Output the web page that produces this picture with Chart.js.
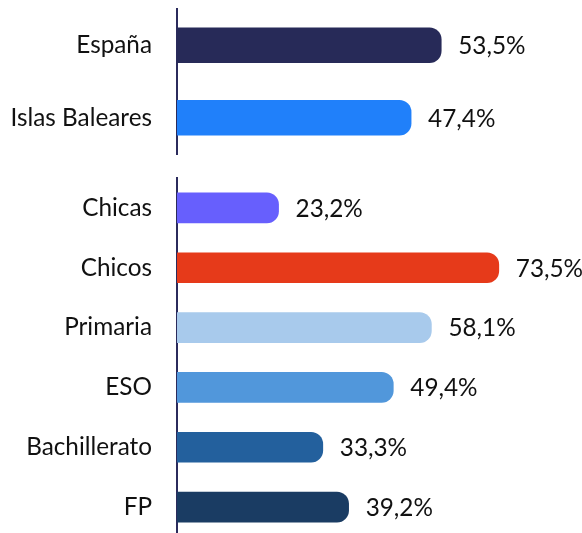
<!DOCTYPE html>
<html lang="es">
<head>
<meta charset="utf-8">
<script src="https://cdn.jsdelivr.net/npm/chart.js@4"></script>
<style>
  html, body { margin: 0; padding: 0; background: #fff; overflow: hidden; }
  #wrap { width: 582px; height: 533px; overflow: hidden; position: relative; }
  canvas { display: block; }
</style>
</head>
<body>
<div id="wrap">
  <canvas id="topChart" width="582" height="160"></canvas>
  <canvas id="bottomChart" width="582" height="377"></canvas>
</div>
<script>
// territorial comparison
const topLabels = ['España', 'Islas Baleares'];
const topValues = [53.5, 47.4];
const topColors = ['#272a58', '#2080fa'];

// breakdown by sex and stage
const bottomLabels = ['Chicas', 'Chicos', 'Primaria', 'ESO', 'Bachillerato', 'FP'];
const bottomValues = [23.2, 73.5, 58.1, 49.4, 33.3, 39.2];
const bottomColors = ['#675ffd', '#e63a1a', '#a8caec', '#5197db', '#23609d', '#1a3c63'];

const FONT = 'Lato, Calibri, Carlito, sans-serif';
const FONT_SIZE = 24.3;
const AXIS_COLOR = '#2b2b5c';

function fmt(v) {
	return v.toFixed(1).replace('.', ',') + '%';
}

// writes the value just past the end of each bar
const valueLabels = {
	id: 'valueLabels',
	afterDatasetsDraw(chart) {
		const ctx = chart.ctx;
		const values = chart.data.datasets[0].data;
		ctx.save();
		ctx.font = FONT_SIZE + 'px ' + FONT;
		ctx.fillStyle = '#111';
		ctx.textAlign = 'left';
		ctx.textBaseline = 'middle';
		chart.getDatasetMeta(0).data.forEach((bar, i) => {
			ctx.fillText(fmt(values[i]), bar.x + 17, bar.y + 1);
		});
		ctx.restore();
	}
};

function makeChart(id, labels, values, colors, xMax, thickness, padTop, padBottom) {
	const ctx = document.getElementById(id).getContext('2d');
	return new Chart(ctx, {
		type: 'bar',
		data: {
			labels: labels,
			datasets: [{
				data: values,
				backgroundColor: colors,
				barThickness: thickness,
				borderRadius: 12,
				borderSkipped: 'start'
			}]
		},
		options: {
			indexAxis: 'y',
			responsive: false,
			animation: false,
			devicePixelRatio: 1,
			layout: { padding: { top: padTop, bottom: padBottom, left: 0, right: 0 } },
			plugins: {
				legend: { display: false },
				tooltip: { enabled: false }
			},
			scales: {
				x: { display: false, min: 0, max: xMax },
				y: {
					grid: { display: false, drawTicks: false },
					border: { display: true, color: AXIS_COLOR, width: 2 },
					ticks: {
						padding: 25,
						color: '#111',
						font: { family: FONT, size: FONT_SIZE }
					},
					afterFit(scale) {
						// fixed gutter so both axes line up; no extra room above/below
						scale.width = 177;
						scale.paddingTop = 0;
						scale.paddingBottom = 0;
					}
				}
			}
		},
		plugins: [valueLabels]
	});
}

makeChart('topChart', topLabels, topValues, topColors, 82, 35, 9, 6);
makeChart('bottomChart', bottomLabels, bottomValues, bottomColors, 92.5, 30, 18, 0);
</script>
</body>
</html>
